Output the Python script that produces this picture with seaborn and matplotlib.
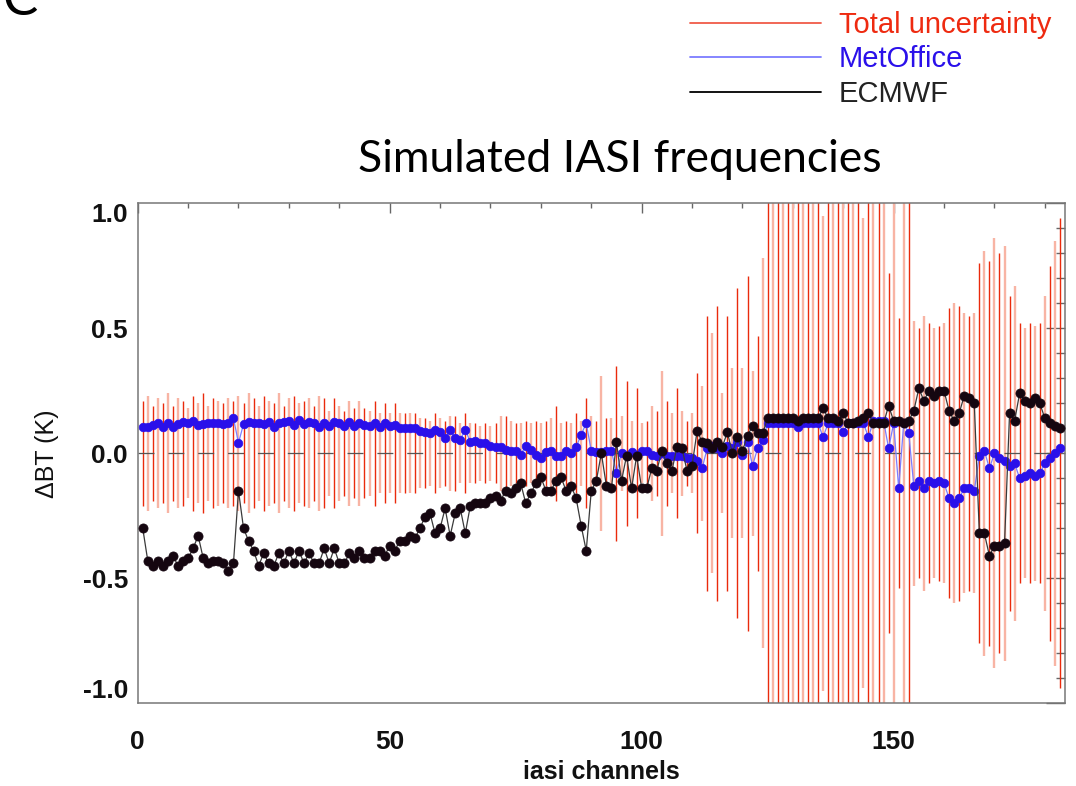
import numpy as np
import pandas as pd
import matplotlib
matplotlib.use("Agg")
import matplotlib.pyplot as plt
from matplotlib.lines import Line2D
import seaborn as sns

# ---------------- data ----------------
channels = list(range(1, 184))

metoffice = [
    0.107, 0.104, 0.113, 0.120, 0.107, 0.120, 0.104, 0.117, 0.126, 0.120,
    0.130, 0.113, 0.117, 0.120, 0.122, 0.123, 0.117, 0.120, 0.140, 0.042,
    0.117, 0.126, 0.122, 0.122, 0.117, 0.126, 0.107, 0.120, 0.126, 0.130,
    0.113, 0.132, 0.117, 0.126, 0.122, 0.107, 0.120, 0.110, 0.125, 0.120,
    0.110, 0.125, 0.110, 0.120, 0.115, 0.110, 0.120, 0.105, 0.120, 0.110,
    0.115, 0.100, 0.100, 0.100, 0.100, 0.090, 0.085, 0.080, 0.095, 0.085,
    0.060, 0.095, 0.060, 0.055, 0.095, 0.045, 0.050, 0.040, 0.040, 0.030,
    0.025, 0.025, 0.015, 0.010, 0.010, -0.005, 0.030, 0.015, -0.005, -0.020,
    0.005, 0.010, -0.010, -0.010, 0.010, 0.000, 0.025, 0.075, 0.120, 0.010,
    0.005, 0.005, 0.010, 0.010, -0.080, 0.000, -0.010, 0.005, -0.005, 0.010,
    0.010, -0.005, -0.010, 0.000, -0.010, -0.010, -0.010, -0.010, -0.020, -0.020,
    -0.030, -0.060, 0.020, 0.030, 0.020, 0.000, 0.030, 0.020, 0.045, -0.005,
    0.045, -0.050, 0.020, 0.055, 0.120, 0.120, 0.120, 0.120, 0.120, 0.120,
    0.105, 0.120, 0.120, 0.120, 0.120, 0.065, 0.120, 0.120, 0.120, 0.085,
    0.120, 0.120, 0.120, 0.120, 0.065, 0.130, 0.130, 0.130, 0.020, 0.120,
    -0.140, 0.120, 0.080, -0.130, -0.110, -0.140, -0.110, -0.120, -0.110, -0.120,
    -0.180, -0.200, -0.180, -0.140, -0.140, -0.150, -0.010, 0.010, -0.060, 0.000,
    -0.020, -0.030, -0.050, -0.040, -0.100, -0.090, -0.080, -0.090, -0.080, -0.040,
    -0.020, 0.000, 0.020,
]

ecmwf = [
    -0.30, -0.43, -0.45, -0.43, -0.45, -0.43, -0.41, -0.45, -0.43, -0.42,
    -0.38, -0.33, -0.42, -0.44, -0.43, -0.43, -0.44, -0.47, -0.44, -0.15,
    -0.30, -0.35, -0.39, -0.45, -0.40, -0.44, -0.45, -0.40, -0.44, -0.39,
    -0.44, -0.39, -0.44, -0.40, -0.44, -0.44, -0.38, -0.44, -0.38, -0.44,
    -0.44, -0.40, -0.42, -0.39, -0.42, -0.42, -0.39, -0.39, -0.41, -0.37,
    -0.39, -0.35, -0.35, -0.33, -0.34, -0.30, -0.255, -0.24, -0.32, -0.30,
    -0.22, -0.33, -0.24, -0.22, -0.32, -0.21, -0.20, -0.20, -0.20, -0.18,
    -0.17, -0.19, -0.15, -0.16, -0.14, -0.12, -0.20, -0.16, -0.12, -0.095,
    -0.15, -0.15, -0.11, -0.095, -0.15, -0.13, -0.18, -0.29, -0.39, -0.15,
    -0.11, 0.00, -0.13, -0.14, 0.045, -0.11, -0.01, -0.14, -0.01, -0.14,
    -0.14, -0.06, -0.07, 0.01, -0.04, -0.07, 0.025, 0.02, -0.07, -0.05,
    0.09, 0.045, 0.04, 0.02, 0.045, 0.025, 0.085, 0.00, 0.065, 0.01,
    0.07, 0.11, 0.08, 0.08, 0.14, 0.14, 0.14, 0.14, 0.14, 0.14,
    0.13, 0.14, 0.14, 0.14, 0.14, 0.18, 0.14, 0.14, 0.13, 0.16,
    0.12, 0.12, 0.13, 0.14, 0.16, 0.12, 0.12, 0.12, 0.19, 0.13,
    0.13, 0.12, 0.13, 0.17, 0.26, 0.21, 0.25, 0.23, 0.25, 0.25,
    0.17, 0.13, 0.16, 0.23, 0.22, 0.20, -0.32, -0.32, -0.41, -0.37,
    -0.37, -0.36, 0.16, 0.13, 0.24, 0.21, 0.20, 0.22, 0.20, 0.14,
    0.12, 0.11, 0.10,
]

# half-length of the total uncertainty bar (K); values > 1 run off the axes
total_uncertainty = [
    0.21, 0.23, 0.19, 0.22, 0.20, 0.24, 0.19, 0.22, 0.21, 0.18,
    0.23, 0.20, 0.24, 0.19, 0.22, 0.21, 0.20, 0.22, 0.21, 0.23,
    0.20, 0.24, 0.22, 0.19, 0.23, 0.21, 0.20, 0.24, 0.19, 0.22,
    0.23, 0.20, 0.21, 0.22, 0.19, 0.23,
    0.22, 0.17, 0.22, 0.19, 0.17, 0.21, 0.18, 0.21, 0.18, 0.17,
    0.21, 0.16, 0.20, 0.16, 0.20, 0.16, 0.16, 0.16, 0.16, 0.14, 0.14, 0.13,
    0.16, 0.14, 0.13, 0.15, 0.15, 0.12, 0.16, 0.12, 0.12, 0.11, 0.12, 0.11,
    0.12, 0.15, 0.15,
    0.13, 0.12, 0.12, 0.13, 0.12, 0.13, 0.12, 0.13, 0.14, 0.19, 0.12, 0.13,
    0.12, 0.16, 0.13, 0.22, 0.15, 0.13,
    0.31, 0.14, 0.14, 0.35, 0.15, 0.29, 0.13, 0.26, 0.12, 0.13,
    0.19, 0.17, 0.33, 0.21, 0.16, 0.26, 0.17, 0.13, 0.16, 0.32,
    0.27, 0.55, 0.48, 0.59, 0.24, 0.55, 0.34, 0.66, 0.34, 0.71,
    0.33, 0.47, 0.78,
    1.2, 1.2, 1.2, 1.2, 1.2, 1.2, 1.2, 1.2, 1.2, 1.2, 1.2,
    0.95,
    1.2, 1.2, 1.2, 1.2, 1.2, 1.2, 1.2,
    0.94,
    1.2, 1.2, 1.2, 1.2,
    0.72, 1.2, 0.54, 1.2, 1.2,
    0.53, 0.50, 0.55, 0.52, 0.50, 0.51, 0.52, 0.58, 0.60, 0.59,
    0.56, 0.55, 0.56, 0.76, 0.81, 0.77, 0.86, 0.80, 0.83, 0.63,
    0.67, 0.52, 0.50, 0.52, 0.51, 0.52, 0.63, 0.75, 0.85, 0.94,
]

series_labels = ["Total uncertainty", "MetOffice", "ECMWF"]
xtick_values = [0, 50, 100, 150]
xtick_labels = ["0", "50", "100", "150"]
ytick_values = [-1.0, -0.5, 0.0, 0.5, 1.0]
ytick_labels = ["-1.0", "-0.5", "0.0", "0.5", "1.0"]

assert len(metoffice) == len(ecmwf) == len(total_uncertainty) == len(channels)

df = pd.DataFrame({"channel": channels, "MetOffice": metoffice,
                   "ECMWF": ecmwf, "err": total_uncertainty})

# ---------------- style ----------------
sns.set_theme(style="white")
plt.rcParams["font.family"] = ["Liberation Sans", "DejaVu Sans"]
plt.rcParams["lines.scale_dashes"] = False

W, H = 1076, 786
fig = plt.figure(figsize=(W / 100, H / 100), dpi=100)
ax_l, ax_r, ax_t, ax_b = 137.7, 1065.0, 203.3, 703.3
ax = fig.add_axes([ax_l / W, 1 - ax_b / H, (ax_r - ax_l) / W, (ax_b - ax_t) / H])

RED_DARK = "#ea2a0c"
RED_LIGHT = "#f8b4a4"
BLUE_PT = "#2a10ea"
BLUE_LN = "#7c7cff"
BLACK_PT = "#150610"

# uncertainty bars (centered on zero)
dark = df["channel"] % 2 == 1
ax.vlines(df.loc[dark, "channel"], -df.loc[dark, "err"], df.loc[dark, "err"],
          colors=RED_DARK, linewidths=1.0, zorder=1)
ax.vlines(df.loc[~dark, "channel"], -df.loc[~dark, "err"], df.loc[~dark, "err"],
          colors=RED_LIGHT, linewidths=1.7, zorder=1)

ax.axhline(0, color="#555555", lw=0.9, dashes=(11.5, 10), zorder=2)

sns.lineplot(data=df, x="channel", y="MetOffice", ax=ax, estimator=None,
             color=BLUE_LN, lw=0.9, marker="o", markersize=6.2,
             markerfacecolor=BLUE_PT, markeredgecolor=BLUE_PT,
             markeredgewidth=0.5, zorder=3, legend=False)
sns.lineplot(data=df, x="channel", y="ECMWF", ax=ax, estimator=None,
             color="#3a3a3a", lw=0.9, marker="o", markersize=6.6,
             markerfacecolor=BLACK_PT, markeredgecolor=BLACK_PT,
             markeredgewidth=0.5, zorder=4, legend=False)

ax.set_xlim(0, 184)
ax.set_ylim(-1, 1)
ax.set_xticks(xtick_values, labels=xtick_labels)
ax.set_xticks(np.arange(0, 185, 10), minor=True)
ax.set_yticks(ytick_values, labels=ytick_labels)
ax.set_yticks(np.arange(-1.0, 1.001, 0.1), minor=True)

ax.tick_params(axis="both", which="both", direction="in", top=True, right=True,
               color="#666666", width=1.0)
ax.tick_params(axis="x", which="major", length=7.2, pad=19)
ax.tick_params(axis="x", which="minor", length=3.6)
ax.tick_params(axis="y", which="major", length=13.5, pad=7)
ax.tick_params(axis="y", which="minor", length=6.5)
for lbl in ax.get_xticklabels() + ax.get_yticklabels():
    lbl.set_fontsize(19)
    lbl.set_fontweight("bold")
    lbl.set_color("#111111")
for lbl in ax.get_yticklabels():
    if lbl.get_text() == "1.0":
        lbl.set_va("top")
    elif lbl.get_text() == "-1.0":
        lbl.set_va("bottom")

for sp in ax.spines.values():
    sp.set_color("#777777")
    sp.set_linewidth(1.1)
ax.grid(False)

ax.set_xlabel("iasi channels", fontsize=18, fontweight="bold", color="#111111")
ax.xaxis.set_label_coords(0.5, -0.113)
ax.set_ylabel("ΔBT (K)", fontsize=18, color="#111111")
ax.yaxis.set_label_coords(-0.085, 0.5)

fig.text(620 / W, 1 - 160 / H, "Simulated IASI frequencies", fontsize=32,
         family=["Lato", "DejaVu Sans"], ha="center", va="center", color="black")
fig.text(0.002, 1 - 15 / H, "C", fontsize=38, family=["Lato", "DejaVu Sans"],
         ha="left", va="baseline", color="black")

handles = [Line2D([], [], color="#f05a48", lw=1.3),
           Line2D([], [], color=BLUE_LN, lw=1.3),
           Line2D([], [], color="black", lw=1.3)]
fig.legend(handles, series_labels, loc="upper left",
           bbox_to_anchor=(690 / W, 1 - 11 / H), frameon=False, fontsize=21,
           handlelength=4.5, handletextpad=0.6, labelspacing=0.22,
           borderpad=0, borderaxespad=0,
           labelcolor=["#ee2a10", "#2a10ea", "#222222"])

fig.savefig("out.png", dpi=100)
